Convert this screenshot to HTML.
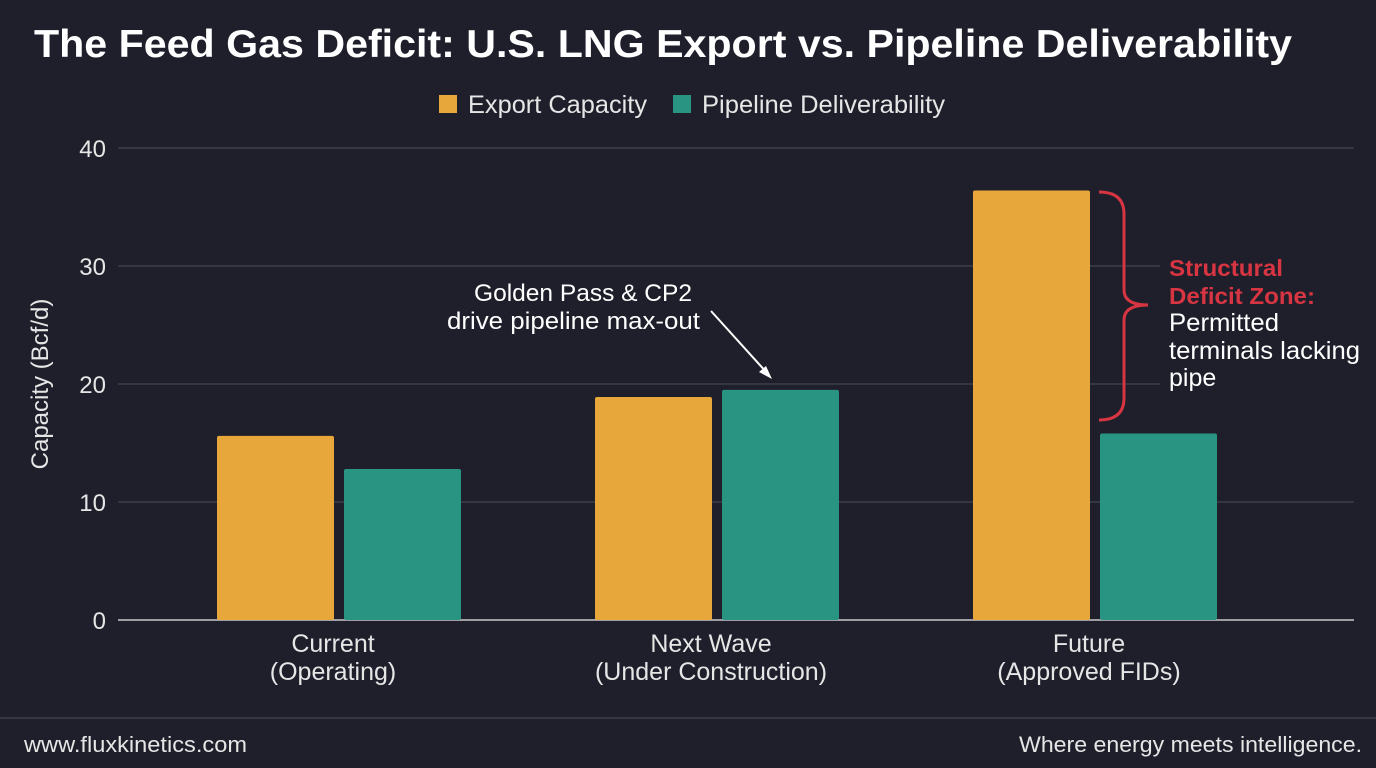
<!DOCTYPE html>
<html><head><meta charset="utf-8"><style>
html,body{margin:0;padding:0;background:#1e1f2b;}
svg{display:block;font-family:"Liberation Sans",sans-serif;}
</style></head><body>
<svg id="c" width="1376" height="768" viewBox="0 0 1376 768">
<rect x="0" y="0" width="1376" height="768" fill="#1e1f2b"/>
<text x="34" y="57" font-size="39" font-weight="bold" fill="#ffffff" textLength="1258" lengthAdjust="spacingAndGlyphs">The Feed Gas Deficit: U.S. LNG Export vs. Pipeline Deliverability</text>
<g>
<g><rect x="439" y="95" width="18" height="18" fill="#e8a73a"/><text x="468" y="113" font-size="25" fill="#e6e6e6" textLength="179" lengthAdjust="spacingAndGlyphs">Export Capacity</text></g>
<g><rect x="673" y="95" width="18" height="18" fill="#2a9483"/><text x="702" y="113" font-size="25" fill="#e6e6e6" textLength="243" lengthAdjust="spacingAndGlyphs">Pipeline Deliverability</text></g>
</g>
<g id="grid"></g>
<g id="bars"></g>
<g id="xl"></g>
<text transform="translate(48,384) rotate(-90)" text-anchor="middle" font-size="24" fill="#e6e6e6">Capacity (Bcf/d)</text>
<g>
<text x="474" y="301" font-size="24" fill="#ffffff" textLength="218" lengthAdjust="spacingAndGlyphs">Golden Pass &amp; CP2</text>
<text x="447" y="329" font-size="24" fill="#ffffff" textLength="253" lengthAdjust="spacingAndGlyphs">drive pipeline max-out</text>
<line x1="711" y1="311" x2="768" y2="374" stroke="#ffffff" stroke-width="2"/>
<polygon points="772,379 759,372 766,366" fill="#ffffff"/>
</g>
<g>
<path d="M1099,192 Q1124,192 1124,214 L1124,290 Q1124,305 1148,305 Q1124,305 1124,320 L1124,398 Q1124,420 1099,420" fill="none" stroke="#d73541" stroke-width="3"/>
<rect x="1160" y="250" width="205" height="145" fill="#1e1f2b"/>
<text x="1169" y="276" font-size="23" font-weight="bold" fill="#d73541" textLength="114" lengthAdjust="spacingAndGlyphs">Structural</text>
<text x="1169" y="304" font-size="23" font-weight="bold" fill="#d73541" textLength="146" lengthAdjust="spacingAndGlyphs">Deficit Zone:</text>
<text x="1169" y="331" font-size="25" fill="#ffffff" textLength="110" lengthAdjust="spacingAndGlyphs">Permitted</text>
<text x="1169" y="359" font-size="25" fill="#ffffff" textLength="191" lengthAdjust="spacingAndGlyphs">terminals lacking</text>
<text x="1169" y="386" font-size="25" fill="#ffffff">pipe</text>
</g>
<line x1="0" y1="718" x2="1376" y2="718" stroke="#4a4c58" stroke-width="1"/>
<text x="24" y="752" font-size="22" fill="#e6e6e6" textLength="223" lengthAdjust="spacingAndGlyphs">www.fluxkinetics.com</text>
<text x="1019" y="752" font-size="22" fill="#e6e6e6" textLength="343" lengthAdjust="spacingAndGlyphs">Where energy meets intelligence.</text>
</svg>
<script>
const categories=["Current|(Operating)","Next Wave|(Under Construction)","Future|(Approved FIDs)"];
const exportValues=[15.6,18.9,36.4];
const pipelineValues=[12.8,19.5,15.8];
const yTicks=[0,10,20,30,40];
const NS="http://www.w3.org/2000/svg";
const y0=620,yTop=148,yMax=40;
function y(v){return y0-(v/yMax)*(y0-yTop);}
const bandStart=150,bandStep=378;
function xc(i){return bandStart+bandStep*(i+0.5);}
function mk(t,a,p){const e=document.createElementNS(NS,t);for(const k in a)e.setAttribute(k,a[k]);p.appendChild(e);return e;}
const grid=document.getElementById('grid');
yTicks.forEach(t=>{
 const l=mk('line',{x1:118,x2:1354,y1:y(t),y2:y(t),stroke:t===0?'#c8c8cc':'#4a4c58','stroke-width':t===0?1.5:1},grid);
 
 
 const tx=mk('text',{x:106,y:y(t)+9,'text-anchor':'end','font-size':24,fill:'#e6e6e6'},grid);
 tx.textContent=t;
 
 
});
const bars=document.getElementById('bars'),xl=document.getElementById('xl');
const bw=117,gap=10;
categories.forEach((c,i)=>{
 const cx=xc(i);
 const b1=mk('rect',{x:cx-gap/2-bw,y:y(exportValues[i]),width:bw,height:y0-y(exportValues[i]),fill:'#e8a73a',rx:2},bars);
 
 
 const b2=mk('rect',{x:cx+gap/2,y:y(pipelineValues[i]),width:bw,height:y0-y(pipelineValues[i]),fill:'#2a9483',rx:2},bars);
 
 
 c.split('|').forEach((ln,j)=>{
  const t=mk('text',{x:cx-6,y:652+j*28,'text-anchor':'middle','font-size':25,fill:'#e6e6e6'},xl);
  t.textContent=ln;
  
  
 });
});
</script>
</body></html>
